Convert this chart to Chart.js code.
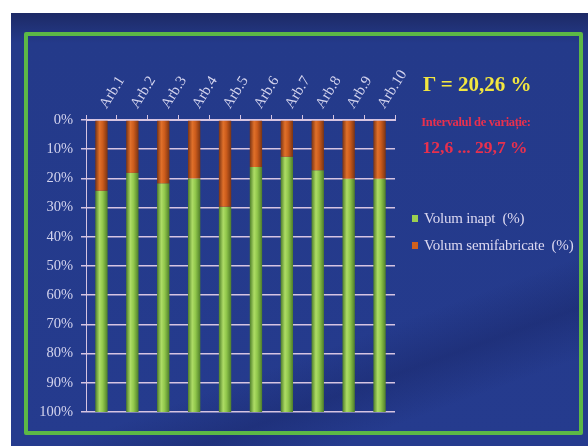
<!DOCTYPE html>
<html>
<head>
<meta charset="utf-8">
<script src="https://cdn.jsdelivr.net/npm/chart.js@4"></script>
<style>
	html, body { margin: 0; padding: 0; background: #fff; }
	#wrap { position: relative; width: 588px; height: 446px; overflow: hidden; }
	#panel {
		position: absolute; left: 11px; top: 13px; right: 0; bottom: 0;
		background: linear-gradient(180deg, #1d2a66 0px, #243a8a 30px, #253b8e 100%);
	}
	#streak {
		position: absolute; left: 0; top: 0; width: 100%; height: 100%;
		background: linear-gradient(160deg, rgba(0,0,0,0) 70%, rgba(20,30,90,0.35) 78%, rgba(0,0,0,0) 86%);
	}
	#frame {
		position: absolute; left: 24px; top: 32px; width: 551px; height: 395px;
		border: 4px solid #5cb846; border-radius: 2px;
	}
	#c { position: absolute; left: 0; top: 0; }
	.txt { position: absolute; font-family: "Liberation Serif", "DejaVu Serif", serif; white-space: nowrap; }
	#gamma { left: 423px; top: 72px; color: #f2e640; font-size: 21px; font-weight: bold; }
	#ivl { left: 419px; top: 115px; width: 114px; text-align: center; color: #e8304e; font-size: 12.5px; font-weight: bold; letter-spacing: -0.35px; }
	#ivl2 { left: 421px; top: 137px; width: 108px; text-align: center; color: #e8304e; font-size: 17.5px; font-weight: bold; }
	.leg { left: 412px; color: #dcd8f0; font-size: 15px; letter-spacing: -0.2px; }
	.leg span { display: inline-block; width: 6px; height: 7px; margin-right: 6px; vertical-align: 1px; }
</style>
</head>
<body>
<div id="wrap">
	<div id="panel"><div id="streak"></div></div>
	<div id="frame"></div>
	<canvas id="c" width="588" height="446"></canvas>
	<div class="txt" id="gamma">Γ = 20,26 %</div>
	<div class="txt" id="ivl">Intervalul de variație:</div>
	<div class="txt" id="ivl2">12,6 ... 29,7 %</div>
	<div class="txt leg" style="top:210px"><span style="background:#9cd050"></span>Volum inapt&nbsp; (%)</div>
	<div class="txt leg" style="top:237px"><span style="background:#d0601c"></span>Volum semifabricate&nbsp; (%)</div>
</div>
<script>
const categories = ['Arb.1', 'Arb.2', 'Arb.3', 'Arb.4', 'Arb.5', 'Arb.6', 'Arb.7', 'Arb.8', 'Arb.9', 'Arb.10']
const semifabricate = [24.2, 18.1, 21.7, 20.0, 29.7, 16.1, 12.6, 17.2, 20.1, 20.1]
const inapt = [75.8, 81.9, 78.3, 80.0, 70.3, 83.9, 87.4, 82.8, 79.9, 79.9]
const yTicks = [0, 10, 20, 30, 40, 50, 60, 70, 80, 90, 100]

const gridColor = '#d6c4e2'
const labelColor = '#d4d4ee'

// cylinder-like shading across each bar
function shade(dark, mid, light) {
	return ctx => {
		const chart = ctx.chart
		const x = chart.scales.x
		if (!chart.chartArea || !x || ctx.dataIndex === undefined) return mid
		const cx = x.getPixelForValue(ctx.dataIndex)
		const half = (x.width / categories.length) * 0.4 / 2
		const g = chart.ctx.createLinearGradient(cx - half, 0, cx + half, 0)
		g.addColorStop(0, dark)
		g.addColorStop(0.35, light)
		g.addColorStop(0.6, mid)
		g.addColorStop(1, dark)
		return g
	}
}

new Chart(document.getElementById('c'), {
	type: 'bar',
	data: {
		labels: categories,
		datasets: [
			{
				label: 'Volum semifabricate  (%)',
				data: semifabricate,
				backgroundColor: shade('#7a3414', '#cc5c1c', '#e0702a'),
				borderWidth: 0,
			},
			{
				label: 'Volum inapt  (%)',
				data: inapt,
				backgroundColor: shade('#4e7e2a', '#92c84c', '#aedc66'),
				borderWidth: 0,
			},
		],
	},
	options: {
		responsive: false,
		animation: false,
		layout: { padding: { left: 0, top: 0, right: 193, bottom: 34 } },
		datasets: { bar: { barPercentage: 0.4, categoryPercentage: 1 } },
		plugins: { legend: { display: false }, tooltip: { enabled: false } },
		scales: {
			x: {
				position: 'top',
				stacked: true,
				afterFit: s => { s.height = 120 },
				grid: { drawOnChartArea: false, drawTicks: true, tickLength: 5, color: gridColor, offset: true },
				border: { color: gridColor },
				ticks: {
					color: labelColor,
					font: { family: 'Liberation Serif', size: 15 },
					minRotation: 58,
					maxRotation: 58,
					padding: 3,
					labelOffset: 17,
				},
			},
			y: {
				stacked: true,
				reverse: true,
				min: 0,
				max: 100,
				afterFit: s => { s.width = 86 },
				afterBuildTicks: s => { s.ticks = yTicks.map(v => ({ value: v })) },
				grid: { color: gridColor, lineWidth: 1.5, tickLength: 5 },
				border: { color: gridColor },
				ticks: {
					color: labelColor,
					font: { family: 'Liberation Serif', size: 14.5 },
					padding: 8,
					callback: v => v + '%',
				},
			},
		},
	},
})
</script>
</body>
</html>
